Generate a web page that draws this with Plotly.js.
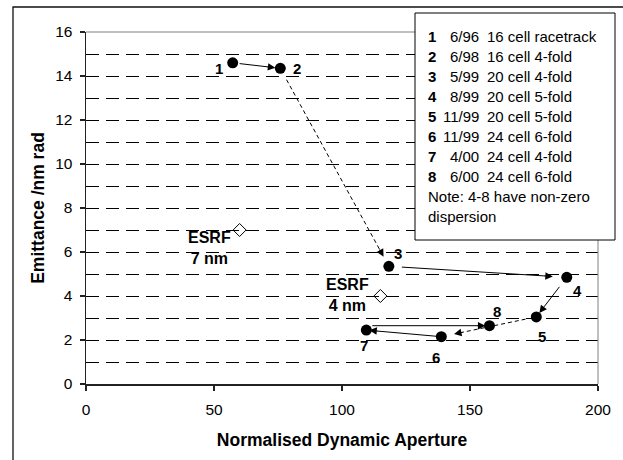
<!DOCTYPE html>
<html>
<head>
<meta charset="utf-8">
<script src="https://cdn.plot.ly/plotly-3.0.1.min.js"></script>
<style>
  html, body { margin: 0; padding: 0; background: #fff; }
  #chart { width: 623px; height: 460px; }
</style>
</head>
<body>
<div id="chart"></div>
<script>
// Lattice design history: normalised dynamic aperture against emittance
const latticeIds   = ['1', '2', '3', '4', '5', '6', '7', '8'];
const dynAperture  = [57.3, 75.9, 118.3, 187.8, 175.9, 138.8, 109.5, 157.6];
const emittance    = [14.6, 14.35, 5.35, 4.85, 3.05, 2.15, 2.45, 2.65];

// ESRF reference lattices
const esrfLabels   = ['ESRF<br>7 nm', 'ESRF<br>4 nm'];
const esrfAperture = [60, 115];
const esrfEmittance = [7, 4];

// Legend box text
const legendDates = ['6/96', '6/98', '5/99', '8/99', '11/99', '11/99', '4/00', '6/00'];
const legendDesc  = ['16 cell racetrack', '16 cell 4-fold', '20 cell 4-fold', '20 cell 5-fold',
                     '20 cell 5-fold', '24 cell 6-fold', '24 cell 4-fold', '24 cell 6-fold'];
const noteLines   = ['Note: 4-8 have non-zero', 'dispersion'];

const xTicks = [0, 50, 100, 150, 200];
const yTicks = [0, 2, 4, 6, 8, 10, 12, 14, 16];

// ---- styling (pixels) ----
const W = 623, H = 460;
const M = { l: 86, r: 25, t: 32, b: 76 };
const plotW = W - M.l - M.r, plotH = H - M.t - M.b;
const X_RANGE = [0, 200], Y_RANGE = [0, 16];
const sx = plotW / (X_RANGE[1] - X_RANGE[0]);
const sy = plotH / (Y_RANGE[1] - Y_RANGE[0]);
const px2paperX = px => (px - M.l) / plotW;
const px2paperY = py => (H - M.b - py) / plotH;

const FONT = 'Arial, "Liberation Sans", sans-serif';

// step i joins design i to design i+1
const stepDashed    = [false, true, false, false, true, false, false];
const stepLevel     = [false, false, false, false, false, false, true]; // run level with the target
const stepStartGap  = [7, 13, 13, 12, 11, 5, 6];
const stepEndGap    = [5, 11, 14, 5, 13, 3, 4];
// label offsets [x, y] in pixels (y up)
const labelShift = [[-14, -6], [17, 0], [9, 13], [11, -13], [6, -20], [-5, -21], [-2, -15], [8, 14]];
const esrfShift  = [[-30, -18], [-33, 1]];

const HEAD = { arrowhead: 2, arrowsize: 1.5, arrowwidth: 1, arrowcolor: '#000' };

const traces = [];
const annotations = [];
const shafts = [];

// each step: a shaft drawn as a line shape, and a short annotation arrow for the head
for (let i = 0; i < latticeIds.length - 1; i++) {
  const xa = dynAperture[i], ya = stepLevel[i] ? emittance[i + 1] : emittance[i];
  const xb = dynAperture[i + 1], yb = emittance[i + 1];
  const dxp = (xb - xa) * sx, dyp = -(yb - ya) * sy;   // screen vector tail -> head
  const len = Math.hypot(dxp, dyp);
  const ux = dxp / len, uy = dyp / len;
  const s = stepStartGap[i], e = stepEndGap[i] + 8;
  shafts.push({
    type: 'line', xref: 'x', yref: 'y', layer: 'above',
    x0: xa + ux * s / sx, y0: ya - uy * s / sy,
    x1: xb - ux * e / sx, y1: yb + uy * e / sy,
    line: { color: '#000', width: 1, dash: stepDashed[i] ? '4px,3px' : 'solid' }
  });
  const L = stepEndGap[i] + 10;
  annotations.push(Object.assign({
    x: xb, y: yb, xref: 'x', yref: 'y',
    ax: -ux * L, ay: -uy * L + (Math.abs(uy) < 0.01 ? 0.05 : 0), axref: 'pixel', ayref: 'pixel',
    showarrow: true, standoff: stepEndGap[i], text: ''
  }, HEAD));
}

// design points
traces.push({
  x: dynAperture, y: emittance, type: 'scatter', mode: 'markers', showlegend: false,
  marker: { color: '#000', size: 11, symbol: 'circle' }
});
// ESRF points
traces.push({
  x: esrfAperture, y: esrfEmittance, type: 'scatter', mode: 'markers', showlegend: false,
  marker: { color: '#000', size: 10, symbol: 'diamond-open', line: { width: 1, color: '#000' } }
});

// point numbers
latticeIds.forEach((id, i) => {
  annotations.push({
    x: dynAperture[i], y: emittance[i], xref: 'x', yref: 'y', showarrow: false,
    text: id, xshift: labelShift[i][0], yshift: labelShift[i][1],
    font: { family: FONT, size: 15, color: '#000', weight: 'bold' }
  });
});
esrfLabels.forEach((t, i) => {
  annotations.push({
    x: esrfAperture[i], y: esrfEmittance[i], xref: 'x', yref: 'y', showarrow: false,
    text: t, xshift: esrfShift[i][0], yshift: esrfShift[i][1], align: 'center',
    font: { family: FONT, size: 16, color: '#000', weight: 'bold' }
  });
});

// legend box text
const rowY = i => px2paperY(37 + 19.9 * i);
legendDates.forEach((d, i) => {
  annotations.push({
    x: px2paperX(426), y: rowY(i), xref: 'paper', yref: 'paper', xanchor: 'left', yanchor: 'middle',
    showarrow: false, text: latticeIds[i], font: { family: FONT, size: 15, color: '#000', weight: 'bold' }
  });
  annotations.push({
    x: px2paperX(481), y: rowY(i), xref: 'paper', yref: 'paper', xanchor: 'right', yanchor: 'middle',
    showarrow: false, text: d, font: { family: FONT, size: 15, color: '#000' }
  });
  annotations.push({
    x: px2paperX(485), y: rowY(i), xref: 'paper', yref: 'paper', xanchor: 'left', yanchor: 'middle',
    showarrow: false, text: legendDesc[i], font: { family: FONT, size: 15, color: '#000' }
  });
});
noteLines.forEach((t, j) => {
  annotations.push({
    x: px2paperX(426), y: rowY(legendDates.length + j), xref: 'paper', yref: 'paper',
    xanchor: 'left', yanchor: 'middle', showarrow: false, text: t,
    font: { family: FONT, size: 15, color: '#000' }
  });
});

const shapes = [
  // outer chart frame
  { type: 'rect', xref: 'paper', yref: 'paper', layer: 'below',
    x0: px2paperX(13), x1: px2paperX(660), y0: px2paperY(500), y1: px2paperY(7),
    line: { color: '#111', width: 1.3 }, fillcolor: 'rgba(0,0,0,0)' },
  // top and right plot border
  { type: 'line', xref: 'paper', yref: 'paper', x0: 0, x1: 1, y0: 1, y1: 1, layer: 'above',
    line: { color: '#808080', width: 1 } },
  { type: 'line', xref: 'paper', yref: 'paper', x0: 1, x1: 1, y0: 0, y1: 1, layer: 'above',
    line: { color: '#808080', width: 1 } },
  ...shafts,
  // legend box
  { type: 'rect', xref: 'paper', yref: 'paper', layer: 'above',
    x0: px2paperX(415), x1: px2paperX(615), y0: px2paperY(240), y1: px2paperY(13),
    line: { color: '#000', width: 1 }, fillcolor: '#fff' }
];

const layout = {
  width: W, height: H,
  margin: M,
  paper_bgcolor: '#fff', plot_bgcolor: '#fff',
  showlegend: false,
  font: { family: FONT, color: '#000' },
  xaxis: {
    range: X_RANGE, tickmode: 'array', tickvals: xTicks,
    showgrid: false, zeroline: false,
    showline: true, linecolor: '#222', linewidth: 1.5,
    ticks: 'outside', ticklen: 5, tickwidth: 1.3, tickcolor: '#222',
    tickfont: { family: FONT, size: 15.5, color: '#000' },
    ticklabelstandoff: 6,
    automargin: false,
    title: { text: 'Normalised Dynamic Aperture', standoff: 16,
             font: { family: FONT, size: 17.5, color: '#000', weight: 'bold' } }
  },
  yaxis: {
    range: Y_RANGE, tickmode: 'array', tickvals: yTicks,
    showgrid: true, gridcolor: '#000', gridwidth: 1, griddash: '13px,7px',
    minor: { dtick: 1, tick0: 0, showgrid: true, gridcolor: '#000', gridwidth: 1, griddash: '13px,7px', ticks: '' },
    zeroline: false,
    showline: true, linecolor: '#222', linewidth: 1.5,
    ticks: 'outside', ticklen: 5, tickwidth: 1.3, tickcolor: '#222',
    tickfont: { family: FONT, size: 15.5, color: '#000' },
    ticklabelstandoff: 4,
    automargin: false,
    title: { text: 'Emittance /nm rad', standoff: 6,
             font: { family: FONT, size: 17.5, color: '#000', weight: 'bold' } }
  },
  shapes: shapes,
  annotations: annotations
};

Plotly.newPlot('chart', traces, layout, { staticPlot: true, displayModeBar: false });
</script>
</body>
</html>
